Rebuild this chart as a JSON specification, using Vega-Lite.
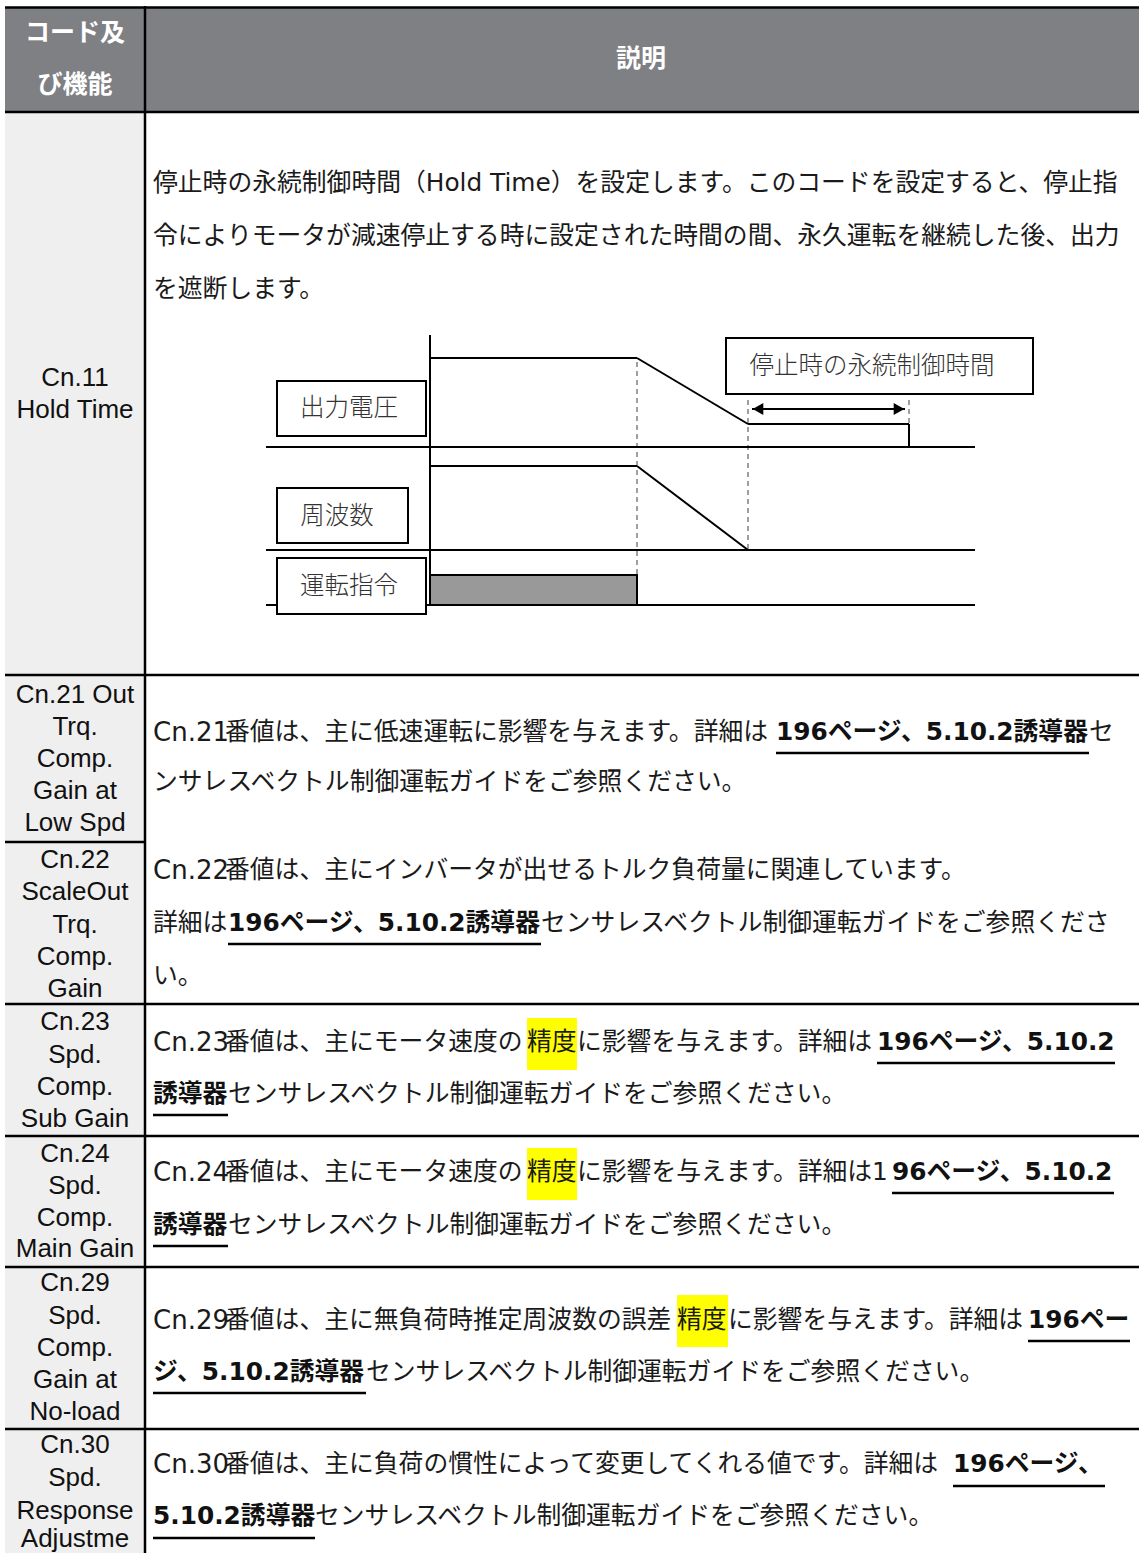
{
  "$schema": "https://vega.github.io/schema/vega-lite/v6.json",
  "width": 1139,
  "height": 1553,
  "autosize": {"type": "none"},
  "padding": 0,
  "background": "white",
  "config": {"view": {"stroke": null}},
  "datasets": {
    "fills": [
      {"x": 5, "x2": 1139, "y": 8, "y2": 112, "k": "header"},
      {"x": 5, "x2": 145, "y": 112, "y2": 1553, "k": "label"},
      {"x": 527, "x2": 577, "y": 1018, "y2": 1070, "k": "mark"},
      {"x": 527, "x2": 577, "y": 1148, "y2": 1200, "k": "mark"},
      {"x": 677, "x2": 728, "y": 1295, "y2": 1347, "k": "mark"}
    ],
    "table": [
      {"x": 5, "x2": 1139, "y": 7.5, "y2": 7.5},
      {"x": 5, "x2": 1139, "y": 112, "y2": 112},
      {"x": 5, "x2": 1139, "y": 675, "y2": 675},
      {"x": 5, "x2": 145, "y": 842, "y2": 842},
      {"x": 5, "x2": 1139, "y": 1004, "y2": 1004},
      {"x": 5, "x2": 1139, "y": 1136, "y2": 1136},
      {"x": 5, "x2": 1139, "y": 1267, "y2": 1267},
      {"x": 5, "x2": 1139, "y": 1429, "y2": 1429},
      {"x": 145, "x2": 145, "y": 6, "y2": 1553}
    ],
    "diag": [
      {"x": 430, "x2": 430, "y": 335, "y2": 605},
      {"x": 266, "x2": 975, "y": 447, "y2": 447},
      {"x": 266, "x2": 975, "y": 550, "y2": 550},
      {"x": 266, "x2": 975, "y": 605, "y2": 605},
      {"x": 430, "x2": 637, "y": 358, "y2": 358},
      {"x": 637, "x2": 748, "y": 358, "y2": 424},
      {"x": 748, "x2": 909, "y": 424, "y2": 424},
      {"x": 909, "x2": 909, "y": 424, "y2": 447},
      {"x": 430, "x2": 637, "y": 466, "y2": 466},
      {"x": 637, "x2": 748, "y": 466, "y2": 550},
      {"x": 752, "x2": 905, "y": 409, "y2": 409}
    ],
    "dashes": [
      {"x": 637, "x2": 637, "y": 362, "y2": 575},
      {"x": 748, "x2": 748, "y": 400, "y2": 550},
      {"x": 909, "x2": 909, "y": 400, "y2": 424}
    ],
    "heads": [
      {"x": 758, "y": 409, "d": "L"},
      {"x": 899, "y": 409, "d": "R"}
    ],
    "boxes": [
      {"x": 277, "x2": 426, "y": 381, "y2": 436, "k": "box"},
      {"x": 277, "x2": 408, "y": 488, "y2": 543, "k": "box"},
      {"x": 277, "x2": 426, "y": 558, "y2": 614, "k": "box"},
      {"x": 726, "x2": 1033, "y": 338, "y2": 394, "k": "box"},
      {"x": 430, "x2": 637, "y": 575, "y2": 605, "k": "run"}
    ],
    "underlines": [
      {"x": 776, "x2": 1089, "y": 753, "y2": 753},
      {"x": 228, "x2": 541, "y": 944, "y2": 944},
      {"x": 877, "x2": 1115, "y": 1063, "y2": 1063},
      {"x": 153, "x2": 228, "y": 1115, "y2": 1115},
      {"x": 892, "x2": 1114, "y": 1193, "y2": 1193},
      {"x": 153, "x2": 228, "y": 1246, "y2": 1246},
      {"x": 1028, "x2": 1130, "y": 1341, "y2": 1341},
      {"x": 153, "x2": 366, "y": 1393, "y2": 1393},
      {"x": 953, "x2": 1105, "y": 1486, "y2": 1486},
      {"x": 153, "x2": 315, "y": 1538, "y2": 1538}
    ],
    "header": [
      {"x": 75, "y": 33, "t": "コード及"},
      {"x": 75, "y": 85, "t": "び機能"},
      {"x": 641, "y": 59, "t": "説明"}
    ],
    "labels": [
      {"x": 75, "y": 378, "t": "Cn.11"},
      {"x": 75, "y": 410, "t": "Hold Time"},
      {"x": 75, "y": 695, "t": "Cn.21 Out"},
      {"x": 75, "y": 727, "t": "Trq."},
      {"x": 75, "y": 759, "t": "Comp."},
      {"x": 75, "y": 791, "t": "Gain at"},
      {"x": 75, "y": 823, "t": "Low Spd"},
      {"x": 75, "y": 860, "t": "Cn.22"},
      {"x": 75, "y": 892, "t": "ScaleOut"},
      {"x": 75, "y": 925, "t": "Trq."},
      {"x": 75, "y": 957, "t": "Comp."},
      {"x": 75, "y": 989, "t": "Gain"},
      {"x": 75, "y": 1022, "t": "Cn.23"},
      {"x": 75, "y": 1055, "t": "Spd."},
      {"x": 75, "y": 1087, "t": "Comp."},
      {"x": 75, "y": 1119, "t": "Sub Gain"},
      {"x": 75, "y": 1154, "t": "Cn.24"},
      {"x": 75, "y": 1186, "t": "Spd."},
      {"x": 75, "y": 1218, "t": "Comp."},
      {"x": 75, "y": 1249, "t": "Main Gain"},
      {"x": 75, "y": 1283, "t": "Cn.29"},
      {"x": 75, "y": 1316, "t": "Spd."},
      {"x": 75, "y": 1348, "t": "Comp."},
      {"x": 75, "y": 1380, "t": "Gain at"},
      {"x": 75, "y": 1412, "t": "No-load"},
      {"x": 75, "y": 1445, "t": "Cn.30"},
      {"x": 75, "y": 1478, "t": "Spd."},
      {"x": 75, "y": 1511, "t": "Response"},
      {"x": 75, "y": 1539, "t": "Adjustme"}
    ],
    "codes": [
      {"x": 153, "y": 733, "t": "Cn.21"},
      {"x": 153, "y": 871, "t": "Cn.22"},
      {"x": 153, "y": 1043, "t": "Cn.23"},
      {"x": 153, "y": 1173, "t": "Cn.24"},
      {"x": 153, "y": 1321, "t": "Cn.29"},
      {"x": 153, "y": 1465, "t": "Cn.30"}
    ],
    "body": [
      {"x": 153, "y": 184, "t": "停止時の永続制御時間（Hold Time）を設定します。このコードを設定すると、停止指"},
      {"x": 153, "y": 237, "t": "令によりモータが減速停止する時に設定された時間の間、永久運転を継続した後、出力"},
      {"x": 153, "y": 290, "t": "を遮断します。"},
      {"x": 225, "y": 733, "t": "番値は、主に低速運転に影響を与えます。詳細は"},
      {"x": 1089, "y": 733, "t": "セ"},
      {"x": 153, "y": 783, "t": "ンサレスベクトル制御運転ガイドをご参照ください。"},
      {"x": 225, "y": 871, "t": "番値は、主にインバータが出せるトルク負荷量に関連しています。"},
      {"x": 153, "y": 924, "t": "詳細は"},
      {"x": 541, "y": 924, "t": "センサレスベクトル制御運転ガイドをご参照くださ"},
      {"x": 153, "y": 977, "t": "い。"},
      {"x": 225, "y": 1043, "t": "番値は、主にモータ速度の"},
      {"x": 527, "y": 1043, "t": "精度"},
      {"x": 577, "y": 1043, "t": "に影響を与えます。詳細は"},
      {"x": 228, "y": 1095, "t": "センサレスベクトル制御運転ガイドをご参照ください。"},
      {"x": 225, "y": 1173, "t": "番値は、主にモータ速度の"},
      {"x": 527, "y": 1173, "t": "精度"},
      {"x": 577, "y": 1173, "t": "に影響を与えます。詳細は1"},
      {"x": 228, "y": 1226, "t": "センサレスベクトル制御運転ガイドをご参照ください。"},
      {"x": 225, "y": 1321, "t": "番値は、主に無負荷時推定周波数の誤差"},
      {"x": 677, "y": 1321, "t": "精度"},
      {"x": 728, "y": 1321, "t": "に影響を与えます。詳細は"},
      {"x": 366, "y": 1373, "t": "センサレスベクトル制御運転ガイドをご参照ください。"},
      {"x": 225, "y": 1465, "t": "番値は、主に負荷の慣性によって変更してくれる値です。詳細は"},
      {"x": 315, "y": 1517, "t": "センサレスベクトル制御運転ガイドをご参照ください。"}
    ],
    "bold": [
      {"x": 776, "y": 733, "t": "196ページ、5.10.2誘導器"},
      {"x": 228, "y": 924, "t": "196ページ、5.10.2誘導器"},
      {"x": 877, "y": 1043, "t": "196ページ、5.10.2"},
      {"x": 153, "y": 1095, "t": "誘導器"},
      {"x": 892, "y": 1173, "t": "96ページ、5.10.2"},
      {"x": 153, "y": 1226, "t": "誘導器"},
      {"x": 1028, "y": 1321, "t": "196ペー"},
      {"x": 153, "y": 1373, "t": "ジ、5.10.2誘導器"},
      {"x": 953, "y": 1465, "t": "196ページ、"},
      {"x": 153, "y": 1517, "t": "5.10.2誘導器"}
    ],
    "diaglabels": [
      {"x": 349, "y": 409, "t": "出力電圧"},
      {"x": 337, "y": 517, "t": "周波数"},
      {"x": 349, "y": 587, "t": "運転指令"},
      {"x": 872, "y": 367, "t": "停止時の永続制御時間"}
    ]
  },
  "encoding": {
    "x": {"field": "x", "type": "quantitative", "scale": {"domain": [0, 1139], "nice": false, "zero": false}, "axis": null},
    "y": {"field": "y", "type": "quantitative", "scale": {"domain": [0, 1553], "nice": false, "zero": false, "reverse": true}, "axis": null}
  },
  "layer": [
    {
      "data": {"name": "fills"},
      "mark": {"type": "rect"},
      "encoding": {
        "x2": {"field": "x2"},
        "y2": {"field": "y2"},
        "fill": {"field": "k", "type": "nominal", "legend": null,
          "scale": {"domain": ["header", "label", "mark", "box", "run"], "range": ["#7f8084", "#efefef", "#ffff00", "#ffffff", "#999999"]}}
      }
    },
    {
      "data": {"name": "table"},
      "mark": {"type": "rule", "color": "#000000", "strokeWidth": 2.5},
      "encoding": {"x2": {"field": "x2"}, "y2": {"field": "y2"}}
    },
    {
      "data": {"name": "dashes"},
      "mark": {"type": "rule", "color": "#808080", "strokeWidth": 1.5, "strokeDash": [5, 4]},
      "encoding": {"x2": {"field": "x2"}, "y2": {"field": "y2"}}
    },
    {
      "data": {"name": "diag"},
      "mark": {"type": "rule", "color": "#000000", "strokeWidth": 2},
      "encoding": {"x2": {"field": "x2"}, "y2": {"field": "y2"}}
    },
    {
      "data": {"name": "heads"},
      "mark": {"type": "point", "filled": true, "color": "#000000", "opacity": 1, "size": 150},
      "encoding": {
        "shape": {"field": "d", "type": "nominal", "legend": null,
          "scale": {"domain": ["L", "R"], "range": ["triangle-left", "triangle-right"]}}
      }
    },
    {
      "data": {"name": "boxes"},
      "mark": {"type": "rect", "stroke": "#000000", "strokeWidth": 2},
      "encoding": {
        "x2": {"field": "x2"},
        "y2": {"field": "y2"},
        "fill": {"field": "k", "type": "nominal", "legend": null,
          "scale": {"domain": ["header", "label", "mark", "box", "run"], "range": ["#7f8084", "#efefef", "#ffff00", "#ffffff", "#999999"]}}
      }
    },
    {
      "data": {"name": "underlines"},
      "mark": {"type": "rule", "color": "#000000", "strokeWidth": 2.5},
      "encoding": {"x2": {"field": "x2"}, "y2": {"field": "y2"}}
    },
    {
      "data": {"name": "header"},
      "mark": {"type": "text", "align": "center", "baseline": "middle", "font": "Noto Sans CJK JP", "fontWeight": "bold", "fontSize": 25, "color": "#ffffff"},
      "encoding": {"text": {"field": "t"}}
    },
    {
      "data": {"name": "labels"},
      "mark": {"type": "text", "align": "center", "baseline": "middle", "font": "Liberation Sans, Arial", "fontSize": 26, "color": "#111111"},
      "encoding": {"text": {"field": "t"}}
    },
    {
      "data": {"name": "codes"},
      "mark": {"type": "text", "align": "left", "baseline": "middle", "font": "DejaVu Sans", "fontSize": 26, "color": "#1a1a1a"},
      "encoding": {"text": {"field": "t"}}
    },
    {
      "data": {"name": "body"},
      "mark": {"type": "text", "align": "left", "baseline": "middle", "font": "DejaVu Sans, Noto Sans CJK JP", "fontSize": 24.8, "color": "#1a1a1a"},
      "encoding": {"text": {"field": "t"}}
    },
    {
      "data": {"name": "bold"},
      "mark": {"type": "text", "align": "left", "baseline": "middle", "font": "DejaVu Sans, Noto Sans CJK JP", "fontWeight": "bold", "fontSize": 24.8, "color": "#111111"},
      "encoding": {"text": {"field": "t"}}
    },
    {
      "data": {"name": "diaglabels"},
      "mark": {"type": "text", "align": "center", "baseline": "middle", "font": "Noto Sans CJK JP", "fontWeight": 300, "fontSize": 24.5, "color": "#333333"},
      "encoding": {"text": {"field": "t"}}
    }
  ]
}
